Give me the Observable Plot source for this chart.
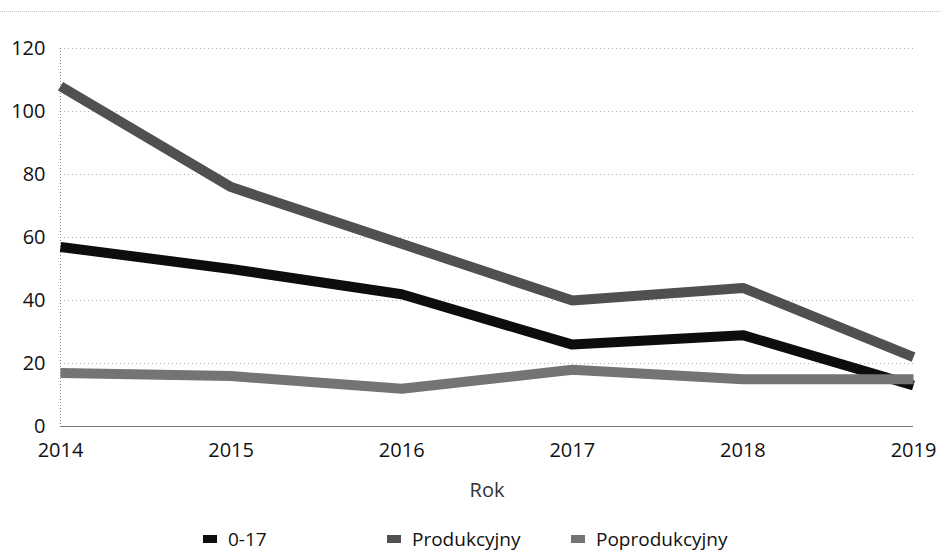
<!DOCTYPE html>
<html><head><meta charset="utf-8">
<script src="https://cdn.jsdelivr.net/npm/d3@7"></script>
<script src="https://cdn.jsdelivr.net/npm/@observablehq/plot@0.6"></script>
<style>
body{margin:0;background:#fff;font-family:"Open Sans",sans-serif;position:relative;}
#topline{position:absolute;left:0;right:0;top:11px;border-top:1px dotted #c4c4c4;}
#legend{height:27px;font-size:19px;color:#111;position:relative;}
.item{position:absolute;display:flex;align-items:center;top:1px;}
.sw{width:14px;height:8px;margin-right:11px;display:inline-block;}
</style></head>
<body><div id="topline"></div><div id="chart"></div><div id="legend"></div>
<script>
const years = [2014, 2015, 2016, 2017, 2018, 2019];
const series = ["0-17", "Produkcyjny", "Poprodukcyjny"];
const v0_17 = [57, 50, 42, 26, 29, 13];
const produkcyjny = [108, 76, 58, 40, 44, 22];
const poprodukcyjny = [17, 16, 12, 18, 15, 15];
const yTicks = [0, 20, 40, 60, 80, 100, 120];
const colors = ["#0d0d0d", "#505050", "#747474"];

const data = [];
[v0_17, produkcyjny, poprodukcyjny].forEach((arr, i) =>
  arr.forEach((v, j) => data.push({year: years[j], value: v, series: series[i]})));

const plot = Plot.plot({
  width: 941, height: 525,
  marginLeft: 60, marginRight: 28, marginTop: 48, marginBottom: 99,
  style: {fontFamily: "Open Sans, sans-serif", fontSize: "20px", color: "#111", background: "#fff"},
  x: {domain: [2014, 2019], ticks: years, tickFormat: d => String(d), label: null},
  y: {domain: [0, 120], ticks: yTicks, label: null},
  color: {domain: series, range: colors},
  marks: [
    Plot.ruleY(yTicks.filter(d => d > 0), {stroke: "#b0b0b0", strokeDasharray: "1,3", strokeWidth: 1}),
    Plot.ruleX([2014], {stroke: "#888", strokeDasharray: "1,2", strokeWidth: 1}),
    Plot.ruleY([0], {stroke: "#777", strokeWidth: 1.2}),
    Plot.axisY({ticks: yTicks, tickSize: 0, tickPadding: 15, fontSize: 20, label: null}),
    Plot.axisX({ticks: years, tickSize: 0, tickPadding: 16, fontSize: 20, tickFormat: d => String(d), label: null}),
    Plot.text(["Rok"], {frameAnchor: "bottom", dy: 70, fontSize: 20, fill: "#333"}),
    Plot.line(data, {x: "year", y: "value", z: "series", stroke: "series", strokeWidth: 10, strokeLinejoin: "miter", strokeLinecap: "butt"})
  ]
});
document.getElementById("chart").append(plot);

const legend = document.getElementById("legend");
const lx = [203, 387, 571];
series.forEach((s, i) => {
  const it = document.createElement("div");
  it.className = "item";
  it.style.left = lx[i] + "px";
  it.innerHTML = `<span class="sw" style="background:${colors[i]}"></span><span>${s}</span>`;
  legend.append(it);
});
</script></body></html>
